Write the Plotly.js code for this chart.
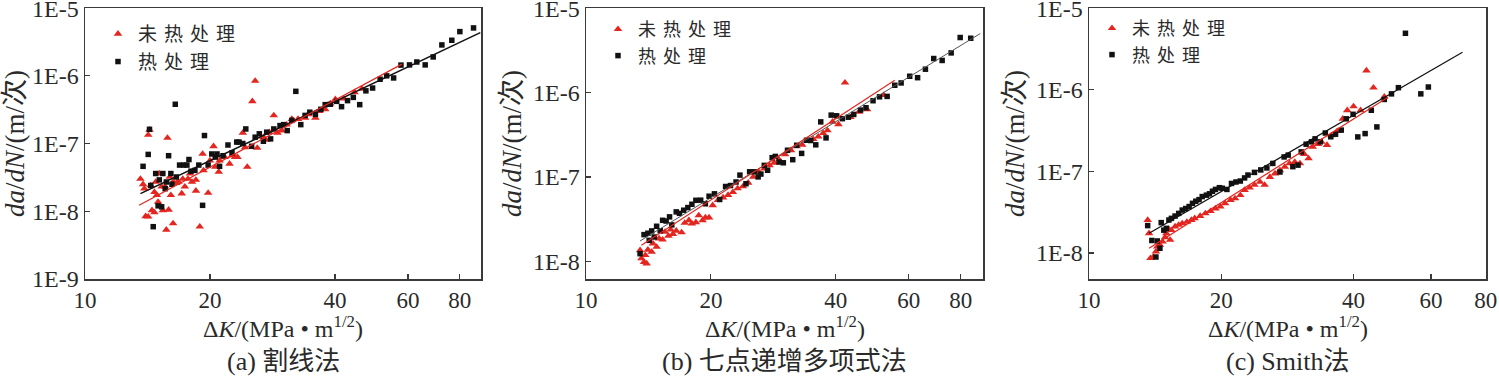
<!DOCTYPE html>
<html>
<head>
<meta charset="utf-8">
<script src="https://cdn.plot.ly/plotly-3.0.1.min.js"></script>
<style>html,body{margin:0;padding:0;background:#fff}#chart{width:1499px;height:376px}</style>
</head>
<body>
<div id="chart"></div>
<script>
// ---------- data ----------
const seriesNames = ['未热处理', '热处理'];
const panelCaptions = ['(a) 割线法', '(b) 七点递增多项式法', '(c) Smith法'];
const xTitle = 'Δ<i>K</i>/(MPa • m<sup>1/2</sup>)';
const yTitle = '<i>da</i>/<i>dN</i>/(m/次)';
const xTickVals = [10, 20, 40, 60, 80];
const xTickText = ['10', '20', '40', '60', '80'];
const yTickVals = [1e-9, 1e-8, 1e-7, 1e-6, 1e-5];
const yTickText = ['1E-9', '1E-8', '1E-7', '1E-6', '1E-5'];

// (a) secant method
const aRedK = [13.6,13.8,13.9,14.0,14.2,14.2,14.3,14.4,14.5,14.7,14.7,14.8,14.9,15.0,15.1,15.3,15.4,15.6,15.7,15.8,15.9,16.0,16.1,16.3,16.3,16.6,16.8,17.1,17.2,17.4,17.7,17.9,18.1,18.5,18.5,18.9,19.2,19.3,19.8,20.0,20.4,20.6,21.0,21.1,21.7,22.3,22.6,23.0,23.3,24.0,24.3,24.6,25.3,25.7,26.0,26.9,27.3,27.8,28.5,29.1,29.8,30.6,31.5,32.6,33.9,34.5,35.9,36.7,37.9,39.0,40.1,42.0,44.6,46.5];
const aRedV = [3.0e-8,2.5e-8,2.15e-8,8.4e-9,8.3e-9,1.34e-7,1.59e-7,2.4e-8,1.03e-8,1.92e-8,9.6e-9,2.7e-8,1.72e-8,1.37e-8,3.6e-8,2.3e-8,1.03e-8,2.3e-8,5.3e-9,1.21e-7,1.05e-8,3.2e-8,1.72e-8,2.7e-8,6.6e-9,2.6e-8,2.7e-8,1.82e-8,3.0e-8,2.3e-8,3.0e-8,3.6e-8,2.7e-8,2.9e-8,2.0e-8,5.9e-9,7.0e-8,4.0e-8,1.86e-8,5.6e-8,9.1e-8,4.5e-8,3.8e-8,5.6e-8,6.3e-8,5.0e-8,6.6e-8,6.3e-8,6.3e-8,1.44e-7,8.8e-8,4.5e-8,4.2e-7,8.4e-7,8.6e-8,1.24e-7,1.13e-7,1.47e-7,2.6e-7,1.44e-7,1.55e-7,1.9e-7,2.3e-7,2.3e-7,2.4e-7,2.7e-7,2.4e-7,3.0e-7,3.2e-7,3.9e-7,4.5e-7,4.6e-7,5.7e-7,6.4e-7];
const aBlkK = [13.8,14.2,14.3,14.4,14.6,14.8,15.0,15.1,15.3,15.4,15.6,15.9,15.7,16.1,16.2,16.5,16.6,16.9,17.3,17.6,17.8,18.0,18.4,18.8,19.2,19.4,19.8,20.2,20.6,20.8,21.1,21.5,22.1,22.6,23.2,23.5,24.0,24.4,25.2,25.7,26.3,26.9,27.4,28.0,28.5,29.5,30.1,30.7,31.5,32.2,33.1,33.9,34.8,35.9,37.0,37.9,39.0,40.4,41.5,42.9,44.3,45.9,47.5,49.3,51.4,53.3,55.4,57.7,60.5,63.0,66.0,69.0,72.4,76.5,80.0,86.3];
const aBlkV = [4.6e-8,6.9e-8,1.62e-7,2.4e-8,5.9e-9,3.6e-8,1.2e-8,2.9e-8,1.16e-8,3.6e-8,2.15e-8,6.6e-8,2.7e-8,3.6e-8,2.5e-8,3.8e-7,3.2e-8,4.8e-8,4.8e-8,4.8e-8,5.8e-8,3.9e-8,4.0e-8,4.8e-8,1.22e-8,1.31e-7,4.8e-8,7.0e-8,6.3e-8,7.0e-8,4.6e-8,6.6e-8,9.5e-8,7.3e-8,1.05e-7,1.05e-7,1.0e-7,1.64e-7,9.1e-8,1.24e-7,1.39e-7,1.08e-7,1.47e-7,1.17e-7,1.64e-7,1.84e-7,1.9e-7,1.55e-7,2.2e-7,5.9e-7,1.9e-7,2.6e-7,2.9e-7,2.7e-7,3.2e-7,3.75e-7,3.8e-7,4.2e-7,3.5e-7,4.3e-7,4.8e-7,3.75e-7,6.0e-7,6.6e-7,8.9e-7,1.0e-6,9.3e-7,1.44e-6,1.45e-6,1.6e-6,1.45e-6,1.9e-6,2.86e-6,3.35e-6,4.5e-6,5.1e-6];
const aRedFitK = [13.5, 58];
const aRedFitV = [1.22e-8, 1.49e-6];
const aBlkFitK = [13.6, 89.6];
const aBlkFitV = [1.82e-8, 4.34e-6];

// (b) seven-point incremental polynomial method
const bRedK = [13.5,13.6,13.8,13.9,14.0,14.1,14.4,14.5,14.8,15.0,15.3,15.5,15.8,16.0,16.2,16.5,17.0,17.3,17.7,18.0,18.4,18.7,19.1,19.4,19.8,20.2,20.8,21.4,22.0,22.6,23.2,23.9,24.6,25.3,26.1,26.9,27.7,28.4,29.2,30.2,31.2,32.2,33.2,34.2,35.3,36.3,37.3,38.2,39.3,40.6,42.1,43.4,45.5,47.6,52.2];
const bRedV = [1.35e-8,1.08e-8,9.8e-9,1.18e-8,9.4e-9,1.37e-8,1.29e-8,1.62e-8,1.48e-8,1.86e-8,1.8e-8,2.23e-8,2.0e-8,2.37e-8,2.1e-8,2.3e-8,2.2e-8,2.85e-8,3.06e-8,2.8e-8,2.9e-8,3.5e-8,3.06e-8,3.3e-8,3.3e-8,4.6e-8,5.3e-8,5.7e-8,6.1e-8,6.6e-8,7.3e-8,7.7e-8,8.5e-8,1.0e-7,1.14e-7,1.25e-7,1.37e-7,1.47e-7,1.6e-7,1.85e-7,2.07e-7,2.3e-7,2.4e-7,2.7e-7,2.8e-7,3.0e-7,3.3e-7,3.55e-7,4.5e-7,4.2e-7,1.31e-6,5.1e-7,5.9e-7,6.3e-7,9.3e-7];
const bBlkK = [13.5,13.8,14.1,14.2,14.4,14.6,14.8,15.1,15.3,15.6,15.9,16.1,16.5,16.8,17.2,17.6,18.0,18.4,18.9,19.4,19.8,20.4,21.0,21.7,22.3,23.0,23.5,24.3,24.8,25.5,26.0,26.4,26.9,27.4,28.1,28.6,29.2,29.9,30.6,31.5,32.2,33.1,34.0,34.8,35.8,36.8,37.9,39.0,40.2,41.5,42.9,44.2,45.9,47.3,49.2,51.0,53.2,55.5,57.5,60.3,63.0,65.8,68.9,72.2,75.9,79.8,84.6];
const bBlkV = [1.23e-8,2.07e-8,2.15e-8,1.77e-8,2.29e-8,1.94e-8,2.6e-8,2.3e-8,3.06e-8,3.0e-8,3.36e-8,2.7e-8,3.85e-8,3.7e-8,4.03e-8,4.33e-8,4.74e-8,5.28e-8,5.3e-8,4.8e-8,5.9e-8,6.3e-8,5.4e-8,7.7e-8,7.9e-8,8.7e-8,1.05e-7,8.3e-8,1.15e-7,1.15e-7,1.0e-7,1.08e-7,1.37e-7,1.2e-7,1.69e-7,1.75e-7,1.5e-7,1.47e-7,2.07e-7,1.6e-7,2.37e-7,1.9e-7,2.72e-7,2.7e-7,2.4e-7,4.49e-7,2.9e-7,5.4e-7,5.3e-7,4.9e-7,5.1e-7,5.5e-7,6.2e-7,6.6e-7,8.0e-7,8.9e-7,9.0e-7,1.22e-6,1.3e-6,1.56e-6,1.5e-6,1.89e-6,2.53e-6,2.4e-6,2.95e-6,4.49e-6,4.4e-6];
const bRedFitK = [13.6, 55.5];
const bRedFitV = [1.55e-8, 1.4e-6];
const bBlkFitK = [13.5, 89.2];
const bBlkFitV = [1.74e-8, 5.0e-6];

// (c) Smith method
const cRedK = [13.6,13.7,13.8,14.0,14.2,14.3,14.5,14.7,14.9,15.0,15.2,15.3,15.4,15.7,16.0,16.3,16.7,17.1,17.4,17.9,18.4,18.9,19.4,19.9,20.4,21.0,21.5,22.1,22.6,23.2,23.8,24.5,25.1,25.8,26.5,27.2,27.9,28.6,29.4,30.2,30.9,31.6,32.3,33.2,33.8,34.8,35.6,36.7,37.8,38.7,40.0,41.5,42.8,44.4,47.0];
const cRedV = [2.53e-8,1.74e-8,8.6e-9,8.9e-9,1.04e-8,1.19e-8,1.25e-8,1.37e-8,1.55e-8,1.74e-8,1.95e-8,1.44e-8,1.9e-8,2.1e-8,2.2e-8,2.3e-8,2.4e-8,2.53e-8,2.65e-8,2.83e-8,3.05e-8,3.25e-8,3.5e-8,3.7e-8,4.05e-8,4.45e-8,4.65e-8,5.1e-8,5.9e-8,6.3e-8,6.8e-8,7.4e-8,6.8e-8,8.5e-8,9.4e-8,1.03e-7,1.13e-7,1.25e-7,1.3e-7,1.25e-7,1.62e-7,1.44e-7,1.99e-7,2.15e-7,2.3e-7,2.1e-7,2.75e-7,3.1e-7,4.4e-7,5.6e-7,6.25e-7,5.6e-7,1.72e-6,1.06e-6,8.2e-7];
const cBlkK = [13.6,13.9,14.2,14.3,14.5,14.6,14.8,15.0,15.2,15.4,15.7,16.0,16.3,16.6,16.9,17.2,17.5,17.8,18.1,18.5,18.8,19.1,19.4,19.8,20.1,20.6,21.1,21.6,22.1,22.6,23.0,23.8,24.6,25.4,26.2,27.2,27.8,28.4,29.1,29.9,30.4,31.2,32.1,32.7,33.6,34.5,35.5,36.4,37.5,38.5,39.9,40.9,42.5,43.9,45.2,47.0,48.8,50.6,52.5,56.9,59.2];
const cBlkV = [2.16e-8,1.42e-8,8.9e-9,1.4e-8,1.14e-8,2.35e-8,1.9e-8,2.0e-8,2.53e-8,2.65e-8,2.83e-8,3.05e-8,3.35e-8,3.5e-8,3.7e-8,4.05e-8,4.3e-8,4.5e-8,4.9e-8,5.1e-8,5.3e-8,5.7e-8,6.0e-8,6.3e-8,6.2e-8,6.0e-8,7.1e-8,7.4e-8,7.6e-8,8.3e-8,9.0e-8,9.7e-8,1.04e-7,1.1e-7,1.25e-7,9.8e-8,1.5e-7,1.58e-7,1.14e-7,1.19e-7,1.73e-7,2.15e-7,2.3e-7,2.5e-7,2.3e-7,2.95e-7,2.65e-7,2.85e-7,3.2e-7,4.4e-7,5.0e-7,2.64e-7,2.9e-7,5.6e-7,3.5e-7,7.6e-7,8.9e-7,1.06e-6,4.92e-6,8.9e-7,1.08e-6];
const cRedFitK = [13.7, 47.9];
const cRedFitV = [1.14e-8, 8.1e-7];
const cBlkFitK = [13.7, 70.8];
const cBlkFitV = [1.74e-8, 2.88e-6];

// ---------- styling ----------
const RED = '#e3261f';
const BLK = '#111111';
const SERIF = 'Liberation Serif, Noto Sans CJK SC, serif';
const CJK = 'Noto Sans CJK SC, sans-serif';
const TXT = '#2a2a2a';
const W = 1499, H = 376;
const TOP = 8, BOT = 279;

const panels = [
  {red:[aRedK,aRedV], blk:[aBlkK,aBlkV], rf:[aRedFitK,aRedFitV], bf:[aBlkFitK,aBlkFitV],
   px:[85,481], xr:[1,1.954], yr:[-9.002,-4.998], bfColor:BLK, bfWidth:1.5, leg:[98,15], legSize:19},
  {red:[bRedK,bRedV], blk:[bBlkK,bBlkV], rf:[bRedFitK,bRedFitV], bf:[bBlkFitK,bBlkFitV],
   px:[586,983], xr:[1,1.957], yr:[-8.21,-4.998], bfColor:'#555', bfWidth:1, leg:[598,11], legSize:18},
  {red:[cRedK,cRedV], blk:[cBlkK,cBlkV], rf:[cRedFitK,cRedFitV], bf:[cBlkFitK,cBlkFitV],
   px:[1089,1486], xr:[1,1.9035], yr:[-8.32,-4.998], bfColor:BLK, bfWidth:1.2, leg:[1092,10], legSize:18}
];

const traces = [];
const layout = {
  width: W, height: H,
  margin: {l:0, r:0, t:0, b:0},
  paper_bgcolor: '#fff', plot_bgcolor: '#fff',
  showlegend: true,
  annotations: []
};

const spaced = s => '<span style="letter-spacing:7px">' + s + '</span>';

panels.forEach((p, i) => {
  const n = i === 0 ? '' : String(i + 1);
  const xa = 'x' + n, ya = 'y' + n;
  const lg = i === 0 ? 'legend' : 'legend' + (i + 1);
  traces.push({type:'scatter', mode:'markers', x:p.red[0], y:p.red[1], xaxis:xa, yaxis:ya,
    name:spaced(seriesNames[0]), legend:lg, marker:{symbol:'triangle-up', size:7.5, color:RED}});
  traces.push({type:'scatter', mode:'markers', x:p.blk[0], y:p.blk[1], xaxis:xa, yaxis:ya,
    name:spaced(seriesNames[1]), legend:lg, marker:{symbol:'square', size:5.5, color:BLK}});
  traces.push({type:'scatter', mode:'lines', x:p.bf[0], y:p.bf[1], xaxis:xa, yaxis:ya,
    showlegend:false, hoverinfo:'skip', line:{color:p.bfColor, width:p.bfWidth}});
  traces.push({type:'scatter', mode:'lines', x:p.rf[0], y:p.rf[1], xaxis:xa, yaxis:ya,
    showlegend:false, hoverinfo:'skip', line:{color:RED, width:1.2}});

  const axCommon = {
    showline:true, mirror:true, linecolor:'#3a3a3a', linewidth:1.5,
    ticks:'inside', ticklen:5, tickwidth:1.2, tickcolor:'#3a3a3a',
    showgrid:false, zeroline:false, ticklabeloverflow:'allow'
  };
  layout['xaxis' + n] = Object.assign({}, axCommon, {
    type:'log', range:p.xr, domain:[p.px[0]/W, p.px[1]/W], anchor:ya,
    tickmode:'array', tickvals:xTickVals, ticktext:xTickText,
    tickfont:{family:SERIF, size:23, color:TXT}
  });
  layout['yaxis' + n] = Object.assign({}, axCommon, {
    type:'log', range:p.yr, domain:[(H - BOT)/H, (H - TOP)/H], anchor:xa,
    tickmode:'array', tickvals:yTickVals, ticktext:yTickText,
    tickfont:{family:SERIF, size:24, color:TXT},
    title:{text:yTitle, font:{family:SERIF, size:27, color:TXT}, standoff:3}
  });
  layout[lg] = {
    x:p.leg[0]/W, y:1 - p.leg[1]/H, xanchor:'left', yanchor:'top',
    bgcolor:'rgba(0,0,0,0)', borderwidth:0, tracegroupgap:0, itemwidth:30,
    font:{family:CJK, size:p.legSize, color:TXT}
  };
  const cx = (p.px[0] + p.px[1]) / 2 / W;
  layout.annotations.push({
    xref:'paper', yref:'paper', x:cx, y:(H - 327) / H,
    xanchor:'center', yanchor:'middle', showarrow:false, text:xTitle,
    font:{family:SERIF, size:24, color:TXT}
  });
  layout.annotations.push({
    xref:'paper', yref:'paper', x:cx, y:(H - 361) / H,
    xanchor:'center', yanchor:'middle', showarrow:false, text:panelCaptions[i],
    font:{family:SERIF, size:26, color:TXT}
  });
});

Plotly.newPlot('chart', traces, layout, {staticPlot:true, displayModeBar:false});
</script>
</body>
</html>
